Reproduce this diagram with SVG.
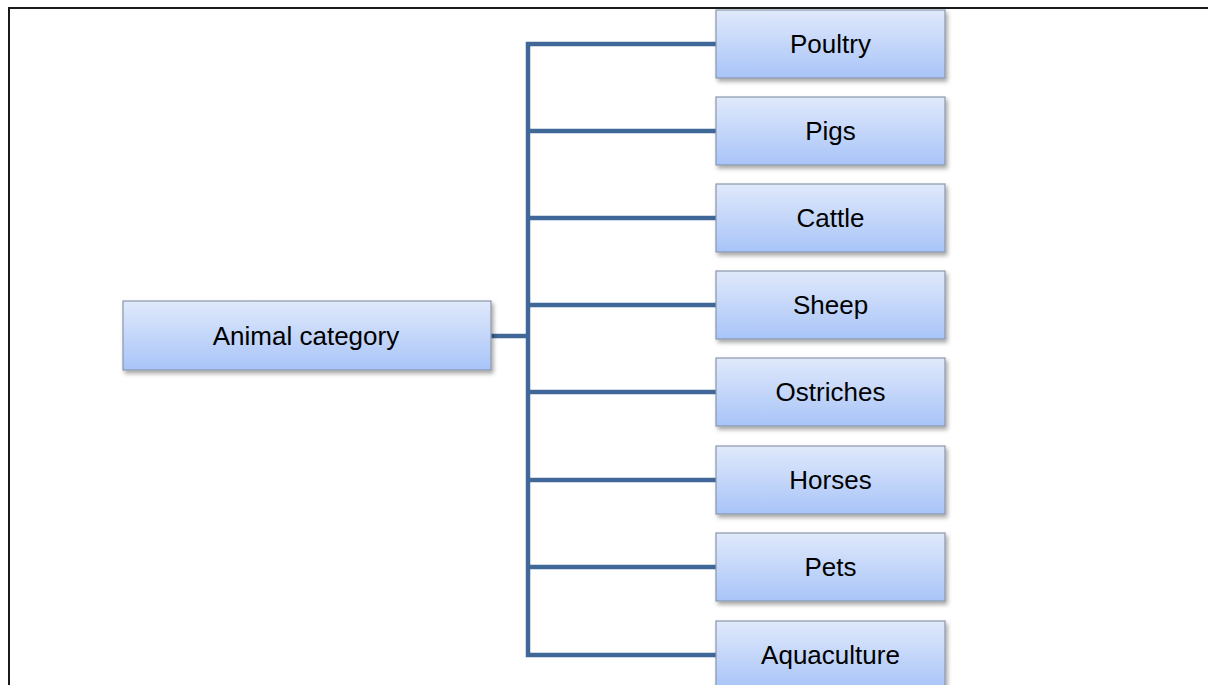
<svg xmlns="http://www.w3.org/2000/svg" width="1208" height="685" viewBox="0 0 1208 685">
  <defs>
    <linearGradient id="boxGrad" x1="0" y1="0" x2="0" y2="1">
      <stop offset="0" stop-color="#e0e9fb"/>
      <stop offset="1" stop-color="#a8c4f8"/>
    </linearGradient>
    <filter id="shadow" x="-10%" y="-20%" width="125%" height="150%">
      <feDropShadow dx="2" dy="3" stdDeviation="2" flood-color="#000" flood-opacity="0.35"/>
    </filter>
  </defs>
  <style>
    .box { fill: url(#boxGrad); stroke: #8a97ab; stroke-width: 1.2; filter: url(#shadow); }
    .lbl { font-family: "Liberation Sans", Arial, sans-serif; font-size: 26px; fill: #000; text-anchor: middle; }
    .conn { stroke: #3f6798; stroke-width: 4.5; fill: none; stroke-linejoin: miter; }
    .frame { stroke: #1a1a1a; stroke-width: 2; fill: none; }
  </style>
  <rect width="1208" height="685" fill="#fff"/>
  <path class="frame" d="M9,685 V8 H1208"/>
  <g id="connectors">
    <path class="conn" d="M491,336 H528"/>
    <path class="conn" d="M716,44 H528 V655 H716"/>
    <path class="conn" d="M528,131 H716"/>
    <path class="conn" d="M528,218 H716"/>
    <path class="conn" d="M528,305 H716"/>
    <path class="conn" d="M528,392 H716"/>
    <path class="conn" d="M528,480 H716"/>
    <path class="conn" d="M528,567 H716"/>
  </g>
  <g id="animal-category">
    <rect class="box" x="123" y="301" width="368" height="69"/>
    <text class="lbl" x="306" y="345">Animal category</text>
  </g>
  <g id="poultry">
    <rect class="box" x="716" y="10" width="229" height="68"/>
    <text class="lbl" x="830.5" y="53">Poultry</text>
  </g>
  <g id="pigs">
    <rect class="box" x="716" y="97" width="229" height="68"/>
    <text class="lbl" x="830.5" y="140">Pigs</text>
  </g>
  <g id="cattle">
    <rect class="box" x="716" y="184" width="229" height="68"/>
    <text class="lbl" x="830.5" y="227">Cattle</text>
  </g>
  <g id="sheep">
    <rect class="box" x="716" y="271" width="229" height="68"/>
    <text class="lbl" x="830.5" y="314">Sheep</text>
  </g>
  <g id="ostriches">
    <rect class="box" x="716" y="358" width="229" height="68"/>
    <text class="lbl" x="830.5" y="401">Ostriches</text>
  </g>
  <g id="horses">
    <rect class="box" x="716" y="446" width="229" height="68"/>
    <text class="lbl" x="830.5" y="489">Horses</text>
  </g>
  <g id="pets">
    <rect class="box" x="716" y="533" width="229" height="68"/>
    <text class="lbl" x="830.5" y="576">Pets</text>
  </g>
  <g id="aquaculture">
    <rect class="box" x="716" y="621" width="229" height="68"/>
    <text class="lbl" x="830.5" y="664">Aquaculture</text>
  </g>
</svg>
